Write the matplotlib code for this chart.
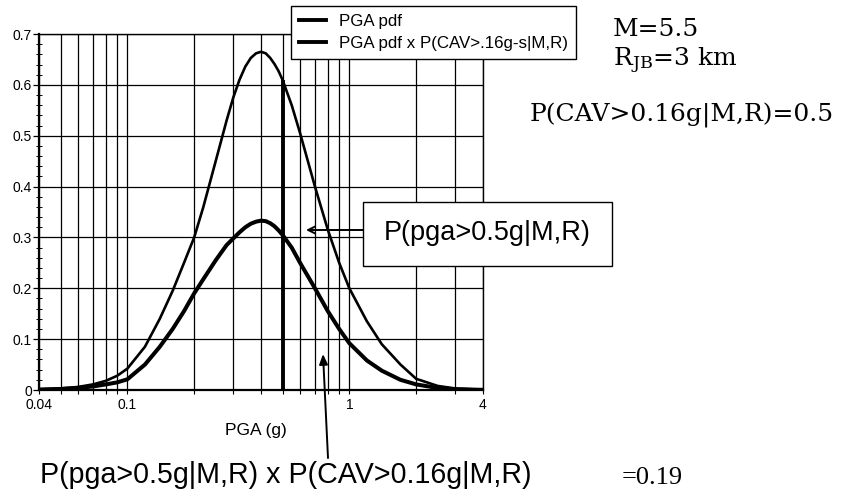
import matplotlib
matplotlib.use('Agg')
import matplotlib.pyplot as plt
from matplotlib.ticker import FixedLocator, FuncFormatter, MultipleLocator, NullFormatter
from matplotlib.patches import Rectangle

# ---------------- data ----------------
pga_x = [0.04, 0.05, 0.06, 0.07, 0.08, 0.09, 0.10, 0.12, 0.14, 0.16, 0.18, 0.20,
         0.22, 0.25, 0.28, 0.30, 0.32, 0.34, 0.36, 0.38, 0.40, 0.42, 0.44, 0.46,
         0.48, 0.50, 0.55, 0.60, 0.70, 0.80, 0.90, 1.0, 1.2, 1.4, 1.7, 2.0, 2.5,
         3.0, 4.0]
pdf_y = [0.001, 0.003, 0.006, 0.011, 0.018, 0.028, 0.042, 0.085, 0.14, 0.195, 0.25, 0.30,
         0.36, 0.45, 0.53, 0.575, 0.61, 0.636, 0.653, 0.662, 0.665, 0.662, 0.653, 0.641,
         0.627, 0.61, 0.56, 0.505, 0.40, 0.315, 0.25, 0.20, 0.135, 0.09, 0.05, 0.022, 0.008,
         0.003, 0.0005]
cav_y = [0.001, 0.002, 0.004, 0.007, 0.011, 0.015, 0.021, 0.05, 0.085, 0.12, 0.155, 0.19,
         0.218, 0.255, 0.285, 0.298, 0.31, 0.32, 0.327, 0.331, 0.333, 0.332, 0.328, 0.322,
         0.314, 0.305, 0.28, 0.25, 0.20, 0.155, 0.12, 0.092, 0.058, 0.038, 0.02, 0.011, 0.004,
         0.0015, 0.0003]
threshold = 0.5
series_labels = ['PGA pdf', 'PGA pdf x P(CAV>.16g-s|M,R)']
x_major = [0.04, 0.1, 1, 4]
x_major_labels = ['0.04', '0.1', '1', '4']
x_minor = [0.05, 0.06, 0.07, 0.08, 0.09, 0.2, 0.3, 0.4, 0.5, 0.6, 0.7, 0.8, 0.9, 2, 3]

# ---------------- figure ----------------
plt.rcParams['font.family'] = ['Liberation Sans', 'DejaVu Sans']
plt.rcParams['mathtext.fontset'] = 'dejavuserif'

W_PX, H_PX = 853, 503
fig = plt.figure(figsize=(W_PX / 100, H_PX / 100), dpi=100)
fig.patch.set_facecolor('white')

ax_l, ax_r, ax_t, ax_b = 39, 483, 34, 390
ax = fig.add_axes([ax_l / W_PX, 1 - ax_b / H_PX, (ax_r - ax_l) / W_PX, (ax_b - ax_t) / H_PX])
ax.set_xscale('log')

ax.plot(pga_x, pdf_y, color='black', lw=1.9, label=series_labels[0], zorder=4)
ax.plot(pga_x, cav_y, color='black', lw=2.9, label=series_labels[1], zorder=4)
ax.vlines(threshold, 0, pdf_y[pga_x.index(threshold)], color='black', lw=2.8, zorder=3)

ax.set_xlim(0.04, 4)
ax.set_ylim(0, 0.7)

ax.xaxis.set_major_locator(FixedLocator(x_major))
ax.xaxis.set_major_formatter(FuncFormatter(
    lambda v, p: x_major_labels[x_major.index(min(x_major, key=lambda m: abs(m - v)))]))
ax.xaxis.set_minor_locator(FixedLocator(x_minor))
ax.xaxis.set_minor_formatter(NullFormatter())
ax.yaxis.set_major_locator(MultipleLocator(0.1))
ax.yaxis.set_minor_locator(MultipleLocator(0.02))
ax.yaxis.set_major_formatter(FuncFormatter(lambda v, p: '0' if abs(v) < 1e-9 else f'{v:.1f}'))

ax.xaxis.grid(True, which='both', color='black', lw=0.9)
ax.yaxis.grid(True, which='major', color='black', lw=0.9)
ax.set_axisbelow(True)

ax.tick_params(axis='x', which='both', direction='out', length=3, width=0.8, labelsize=10, pad=3)
ax.tick_params(axis='y', which='major', direction='out', length=4, width=0.9, labelsize=10, pad=1)
ax.tick_params(axis='y', which='minor', direction='inout', length=4, width=0.7)
for s in ['left', 'bottom']:
    ax.spines[s].set_linewidth(1.6)
for s in ['top', 'right']:
    ax.spines[s].set_linewidth(1.0)

leg = ax.legend(loc='upper left', bbox_to_anchor=(291 / W_PX, 1 - 6 / H_PX),
                bbox_transform=fig.transFigure, fontsize=12.2, frameon=True,
                fancybox=False, framealpha=1, edgecolor='black', borderpad=0.45,
                handlelength=1.6, handletextpad=0.8, labelspacing=0.45, borderaxespad=0)
leg.get_frame().set_linewidth(1.0)
leg.set_zorder(10)
for h in leg.legend_handles:
    h.set_linewidth(2.8)

def fy(y):
    return 1 - y / H_PX

# axis label
fig.text(256 / W_PX, fy(430), 'PGA (g)', ha='center', va='center', fontsize=12.5)

# right-side annotations (serif)
fig.text(613 / W_PX, fy(36), 'M=5.5', family='DejaVu Serif', fontsize=18, va='baseline')
fig.text(613 / W_PX, fy(66), r'R$_{\mathrm{JB}}$=3 km', family='DejaVu Serif', fontsize=18, va='baseline')
fig.text(530 / W_PX, fy(121), 'P(CAV>0.16g|M,R)=0.5', family='DejaVu Serif', fontsize=18, va='baseline')

# callout box
box = Rectangle((363 / W_PX, fy(266)), (612 - 363) / W_PX, (266 - 202) / H_PX,
                transform=fig.transFigure, facecolor='white', edgecolor='black', lw=1.0, zorder=5)
fig.add_artist(box)
fig.text(384 / W_PX, fy(233), 'P(pga>0.5g|M,R)', fontsize=19.5, va='center', zorder=6)
ax.annotate('', xy=(306, H_PX - 230), xycoords='figure pixels',
            xytext=(363, H_PX - 230), textcoords='figure pixels',
            arrowprops=dict(arrowstyle='->,head_length=0.5,head_width=0.25', lw=1.4,
                            color='black', shrinkA=0, shrinkB=0), annotation_clip=False, zorder=6)

# bottom annotation
fig.text(40 / W_PX, fy(483), 'P(pga>0.5g|M,R) x P(CAV>0.16g|M,R)', fontsize=20.6, va='baseline')
fig.text(622 / W_PX, fy(484), '=0.19', family='Liberation Serif', fontsize=19, va='baseline')
ax.annotate('', xy=(323, H_PX - 354), xycoords='figure pixels',
            xytext=(328, H_PX - 458), textcoords='figure pixels',
            arrowprops=dict(arrowstyle='-|>,head_length=0.6,head_width=0.25', lw=1.4,
                            color='black', shrinkA=0, shrinkB=0), annotation_clip=False, zorder=6)

fig.savefig('out.png', dpi=100, facecolor='white')
